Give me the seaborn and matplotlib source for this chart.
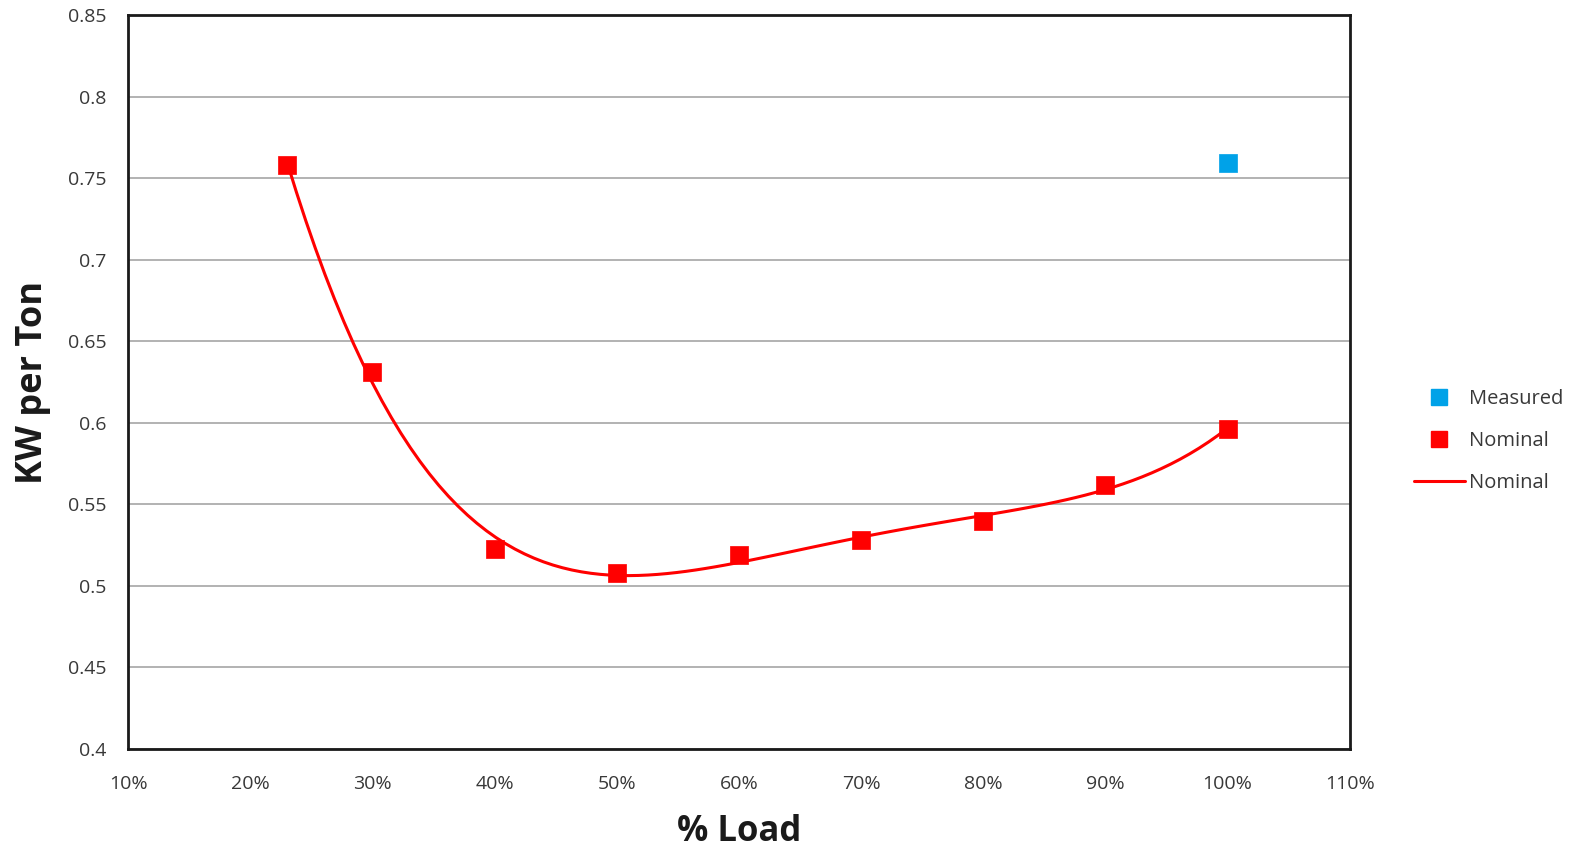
import numpy as np
import pandas as pd
import matplotlib
matplotlib.use("Agg")
import matplotlib.pyplot as plt
import seaborn as sns
from matplotlib.lines import Line2D
from matplotlib.ticker import FuncFormatter, MultipleLocator

# data
load_pct = [23, 30, 40, 50, 60, 70, 80, 90, 100]
kw_nominal = [0.758, 0.631, 0.5225, 0.508, 0.519, 0.528, 0.540, 0.562, 0.596]
measured_pct = [100]
kw_measured = [0.759]

RED = "#ff0000"
BLUE = "#00a2e8"

sns.set_style("white")
plt.rcParams['font.family'] = ['Open Sans', 'DejaVu Sans']

nominal = pd.DataFrame({"load": load_pct, "kw": kw_nominal})
measured = pd.DataFrame({"load": measured_pct, "kw": kw_measured})

fig = plt.figure(figsize=(15.75, 8.47), dpi=100)
ax = fig.add_axes([0.0813, 0.1157, 0.7757, 0.8666])

# trendline (polynomial) through nominal points
sns.regplot(data=nominal, x="load", y="kw", order=4, ci=None, scatter=False,
            line_kws={"color": RED, "lw": 2.2}, ax=ax)
sns.scatterplot(data=nominal, x="load", y="kw", marker="s", s=150, color=RED,
                edgecolor=RED, linewidth=0.5, zorder=4, ax=ax)
sns.scatterplot(data=measured, x="load", y="kw", marker="s", s=150, color=BLUE,
                edgecolor=BLUE, linewidth=0.5, zorder=4, ax=ax)

ax.set_xlim(10, 110)
ax.set_ylim(0.4, 0.85)
ax.xaxis.set_major_locator(MultipleLocator(10))
ax.yaxis.set_major_locator(MultipleLocator(0.05))
ax.xaxis.set_major_formatter(FuncFormatter(lambda v, p: f"{v:.0f}%"))
ax.yaxis.set_major_formatter(FuncFormatter(lambda v, p: f"{v:.2f}".rstrip("0").rstrip(".")))
ax.grid(axis="y", color="#a6a6a6", lw=1.2)
ax.grid(axis="x", visible=False)
ax.set_axisbelow(True)

for sp in ax.spines.values():
    sp.set_visible(True)
    sp.set_color("#1a1a1a")
    sp.set_linewidth(2)

ax.tick_params(axis="both", which="major", direction="out", length=6.5, width=1.2,
               color="#a6a6a6", labelsize=14, labelcolor="#383838")
ax.tick_params(axis="x", pad=12)
ax.tick_params(axis="y", pad=9)

ax.set_xlabel("% Load", fontsize=25, fontweight="bold", color="#1a1a1a", labelpad=15)
ax.set_ylabel("KW per Ton", fontsize=26, fontweight="bold", color="#1a1a1a", labelpad=12)

handles = [
    Line2D([], [], marker="s", ls="none", color=BLUE, markersize=11),
    Line2D([], [], marker="s", ls="none", color=RED, markersize=11),
    Line2D([], [], color=RED, lw=2.2),
]
leg = ax.legend(handles, ["Measured", "Nominal", "Nominal"], loc="center left",
                bbox_to_anchor=(1.038, 0.42), frameon=False, fontsize=14.5,
                labelspacing=1.1, handlelength=2.5, handletextpad=0.2,
                labelcolor="#383838")

fig.savefig("out.png", dpi=100)
